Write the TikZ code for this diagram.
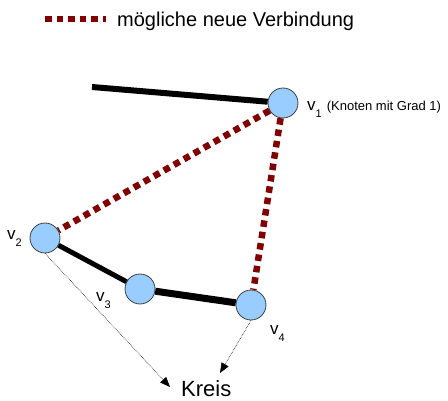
\documentclass[tikz,border=0pt]{standalone}
\usepackage{fontspec}
\setmainfont{Liberation Sans}
\usetikzlibrary{arrows.meta}
\definecolor{nodeblue}{RGB}{153,204,255}
\definecolor{maroonish}{RGB}{128,0,0}
\tikzset{
  vert/.style={circle,draw=black!75,fill=nodeblue,line width=0.8pt,minimum size=30pt,inner sep=0pt},
  edgebold/.style={line width=6pt,black},
  newedge/.style={line width=6.5pt,maroonish,dash pattern=on 6.5pt off 5pt},
  pointer/.style={densely dotted,line width=0.6pt,-{Triangle[length=10pt,width=8pt]}},
  vlab/.style={inner sep=0pt,anchor=base west},
}
\newcommand{\vname}[1]{{\fontsize{17}{17}\selectfont v}\raisebox{-7pt}{\fontsize{11}{11}\selectfont #1}}
\begin{document}
\begin{tikzpicture}[x=1pt,y=-1pt]
\useasboundingbox (0,0) rectangle (448,401);
% legend
\coordinate (la) at (45,19);
\coordinate (lb) at (106,19);
\draw[newedge] (la) -- (lb);
\node[anchor=base west,inner sep=0pt,font=\fontsize{20}{20}\selectfont] (legend) at (117,27) {mögliche neue Verbindung};
% vertices
\node[vert] (v1) at (283,103) {};
\node[vert] (v2) at (45,238) {};
\node[vert] (v3) at (140,289) {};
\node[vert] (v4) at (251,305) {};
\coordinate (tail) at (92,87);
% edges
\draw[edgebold] (tail) -- (v1);
\draw[edgebold,line width=5pt] (v2) -- (v3);
\draw[edgebold,line width=7pt] (v3) -- (v4);
\draw[newedge] (v1) -- (v2);
\draw[newedge] (v1) -- (v4);
% labels
\node[vlab] (l1) at (307,111) {\vname{1}\hspace{5pt}{\fontsize{13}{14}\selectfont (Knoten mit Grad 1)}};
\node[vlab] (l2) at (7,240) {\vname{2}};
\node[vlab] (l3) at (96,302) {\vname{3}};
\node[vlab] (l4) at (270,335) {\vname{4}};
\node[anchor=base west,inner sep=0pt,font=\fontsize{22}{22}\selectfont] (kreis) at (181,397) {Kreis};
% pointers
\coordinate (t2) at (170,387);
\coordinate (t4) at (220,373);
\draw[pointer] (v2.south) -- (t2);
\draw[pointer] (v4.south) -- (t4);
\end{tikzpicture}
\end{document}
